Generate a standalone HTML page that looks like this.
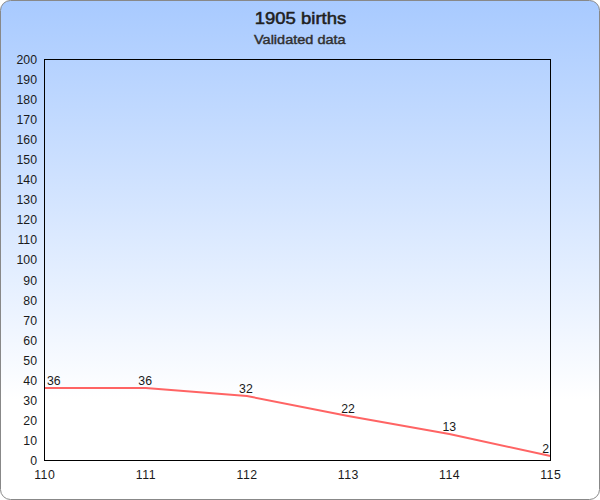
<!DOCTYPE html>
<html>
<head>
<meta charset="utf-8">
<title>1905 births</title>
<style>
html,body{margin:0;padding:0;background:#fff;}
body{width:600px;height:500px;overflow:hidden;}
svg{display:block;}
text{font-family:"Liberation Sans",sans-serif;}
.ax{font-size:12.3px;fill:#1a1a1a;}
</style>
</head>
<body>
<svg width="600" height="500" viewBox="0 0 600 500">
  <defs>
    <linearGradient id="bg" x1="0" y1="0" x2="0" y2="1">
      <stop offset="0" stop-color="#a8caff"/>
      <stop offset="0.8" stop-color="#ffffff"/>
    </linearGradient>
  </defs>
  <rect x="0.5" y="0.5" width="599" height="499" rx="10" ry="10" fill="url(#bg)" stroke="#888888" stroke-width="1"/>
  <text x="254.8" y="24" font-size="16" fill="#202020" stroke="#202020" stroke-width="0.5" textLength="91.4" lengthAdjust="spacingAndGlyphs">1905 births</text>
  <text x="254" y="43.8" font-size="12.2" fill="#303030" stroke="#303030" stroke-width="0.4" textLength="91.6" lengthAdjust="spacingAndGlyphs">Validated data</text>
  <g class="ax">
    <text x="37" y="64" text-anchor="end">200</text>
    <text x="37" y="84" text-anchor="end">190</text>
    <text x="37" y="104" text-anchor="end">180</text>
    <text x="37" y="124" text-anchor="end">170</text>
    <text x="37" y="144" text-anchor="end">160</text>
    <text x="37" y="164" text-anchor="end">150</text>
    <text x="37" y="184" text-anchor="end">140</text>
    <text x="37" y="204" text-anchor="end">130</text>
    <text x="37" y="224" text-anchor="end">120</text>
    <text x="37" y="244" text-anchor="end">110</text>
    <text x="37" y="264" text-anchor="end">100</text>
    <text x="37" y="285" text-anchor="end">90</text>
    <text x="37" y="305" text-anchor="end">80</text>
    <text x="37" y="325" text-anchor="end">70</text>
    <text x="37" y="345" text-anchor="end">60</text>
    <text x="37" y="365" text-anchor="end">50</text>
    <text x="37" y="385" text-anchor="end">40</text>
    <text x="37" y="405" text-anchor="end">30</text>
    <text x="37" y="425" text-anchor="end">20</text>
    <text x="37" y="445" text-anchor="end">10</text>
    <text x="37" y="465" text-anchor="end">0</text>
  </g>
  <g class="ax" letter-spacing="0.5">
    <text x="44.75" y="478.5" text-anchor="middle">110</text>
    <text x="145.95" y="478.5" text-anchor="middle">111</text>
    <text x="247.15" y="478.5" text-anchor="middle">112</text>
    <text x="348.35" y="478.5" text-anchor="middle">113</text>
    <text x="449.55" y="478.5" text-anchor="middle">114</text>
    <text x="550.75" y="478.5" text-anchor="middle">115</text>
  </g>
  <polyline points="44.5,388.0 145.7,388.0 246.9,396.0 348.1,416.0 449.3,434.0 550.5,456.0" fill="none" stroke="#ff6464" stroke-width="2" stroke-linejoin="round"/>
  <rect x="44.5" y="59.5" width="506" height="401" fill="none" stroke="#000" stroke-width="1" shape-rendering="crispEdges"/>
  <g class="ax">
    <text x="47" y="385">36</text>
    <text x="145.2" y="385" text-anchor="middle">36</text>
    <text x="245.9" y="393" text-anchor="middle">32</text>
    <text x="348.1" y="413" text-anchor="middle">22</text>
    <text x="449.3" y="431" text-anchor="middle">13</text>
    <text x="549" y="453" text-anchor="end">2</text>
  </g>
</svg>
</body>
</html>
